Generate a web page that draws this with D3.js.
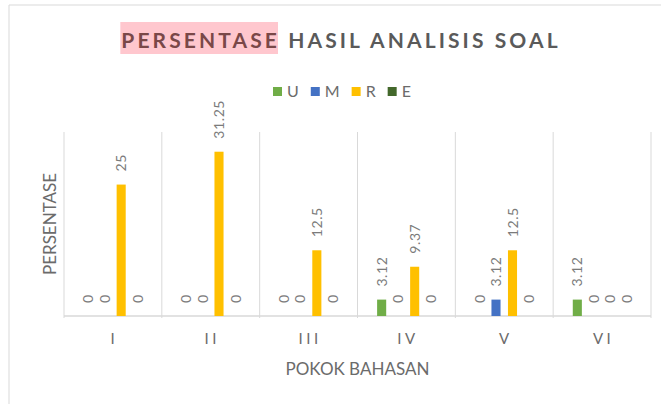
<!DOCTYPE html>
<html>
<head>
<meta charset="utf-8">
<script src="https://cdn.jsdelivr.net/npm/d3@7"></script>
<style>
  body { margin: 0; background: #fff; }
  text { font-family: Lato, "Open Sans", sans-serif; }
</style>
</head>
<body>
<div class="container"></div>
<script>
// data
var categories = ["I", "II", "III", "IV", "V", "VI"];
var seriesNames = ["U", "M", "R", "E"];
var seriesColors = ["#70ad47", "#4472c4", "#ffc000", "#43682b"];
var valuesU = [0, 0, 0, 3.12, 0, 3.12];
var valuesM = [0, 0, 0, 0, 3.12, 0];
var valuesR = [25, 31.25, 12.5, 9.37, 12.5, 0];
var valuesE = [0, 0, 0, 0, 0, 0];
var yMax = 35;

var allValues = [valuesU, valuesM, valuesR, valuesE];

function makeStage(width, height) {
    var stage = d3.select(".container")
        .append("svg")
        .attr("width", width)
        .attr("height", height);
    return stage;
}

var svg = makeStage(661, 404);

// chart frame (only top and left edge are visible)
svg.append("line").attr("x1", 9).attr("y1", 5).attr("x2", 661).attr("y2", 5)
    .attr("stroke", "#d9d9d9");
svg.append("line").attr("x1", 9).attr("y1", 5).attr("x2", 9).attr("y2", 404)
    .attr("stroke", "#d9d9d9");

var plot = {left: 64, right: 651, top: 132, bottom: 316};

var x0 = d3.scaleBand()
    .domain(categories)
    .range([plot.left, plot.right])
    .paddingInner(0.325)
    .paddingOuter(0.1625);

var x1 = d3.scaleBand()
    .domain(seriesNames)
    .range([0, x0.bandwidth()])
    .paddingInner(0.45)
    .paddingOuter(0.225);

var y = d3.scaleLinear()
    .domain([0, yMax])
    .range([plot.bottom, plot.top]);

// vertical gridlines at category boundaries
var bounds = d3.range(categories.length + 1).map(function (i) {
    return plot.left + i * x0.step();
});
svg.selectAll(".grid").data(bounds).enter().append("line")
    .attr("class", "grid")
    .attr("x1", function (d) { return d; })
    .attr("x2", function (d) { return d; })
    .attr("y1", y(yMax))
    .attr("y2", y(0) + 2)
    .attr("stroke", "#d9d9d9")
    .attr("stroke-width", 1);

// base line
svg.append("line")
    .attr("x1", plot.left).attr("x2", plot.right)
    .attr("y1", y(0)).attr("y2", y(0))
    .attr("stroke", "#d9d9d9")
    .attr("stroke-width", 1.5);

// bars
var rows = [];
categories.forEach(function (c, i) {
    seriesNames.forEach(function (s, j) {
        rows.push({cat: c, series: s, color: seriesColors[j], value: allValues[j][i]});
    });
});

svg.selectAll(".bar").data(rows).enter().append("rect")
    .attr("class", "bar")
    .attr("x", function (d) { return x0(d.cat) + x1(d.series); })
    .attr("width", x1.bandwidth())
    .attr("y", function (d) { return y(d.value); })
    .attr("height", function (d) { return y(0) - y(d.value); })
    .attr("fill", function (d) { return d.color; });

// rotated data labels
svg.selectAll(".lbl").data(rows).enter().append("text")
    .attr("class", "lbl")
    .attr("transform", function (d) {
        var cx = x0(d.cat) + x1(d.series) + x1.bandwidth() / 2;
        return "translate(" + cx + "," + (y(d.value) - 13) + ") rotate(-90)";
    })
    .attr("dy", "0.36em")
    .attr("font-size", 14)
    .attr("letter-spacing", 0.6)
    .attr("fill", "#7b7b7b")
    .text(function (d) { return String(d.value); });

// category axis labels
var xAxis = d3.axisBottom(x0).tickSize(0).tickPadding(17);
var gx = svg.append("g")
    .attr("transform", "translate(0," + y(0) + ")")
    .call(xAxis);
gx.select(".domain").remove();
gx.selectAll("text")
    .attr("font-family", "Lato, sans-serif")
    .attr("font-size", 15)
    .attr("letter-spacing", 3.5)
    .attr("dx", 1.5)
    .attr("fill", "#6b6b6b");

// axis titles
svg.append("text")
    .attr("x", (plot.left + plot.right) / 2)
    .attr("y", 375)
    .attr("text-anchor", "middle")
    .attr("font-size", 17)
    .attr("fill", "#6b6b6b")
    .text("POKOK BAHASAN");

svg.append("text")
    .attr("transform", "translate(56," + ((plot.top + plot.bottom) / 2) + ") rotate(-90)")
    .attr("text-anchor", "middle")
    .attr("font-size", 17)
    .attr("fill", "#6b6b6b")
    .text("PERSENTASE");

// title with highlighted first word
var title = svg.append("text")
    .attr("x", 341)
    .attr("y", 48)
    .attr("text-anchor", "middle")
    .attr("font-size", 21)
    .attr("font-weight", "bold")
    .attr("letter-spacing", 3.1);
title.append("tspan").attr("fill", "#7a4848").text("PERSENTASE");
title.append("tspan").attr("fill", "#5a5a5a").text(" HASIL ANALISIS SOAL");

var tnode = title.node();
var hlStart = tnode.getStartPositionOfChar(0).x;
var hlEnd = tnode.getEndPositionOfChar(9).x;
svg.insert("rect", "text")
    .attr("x", hlStart - 1)
    .attr("y", 22)
    .attr("width", hlEnd - hlStart - 1)
    .attr("height", 32)
    .attr("fill", "#ffc7ce");

// legend
var legend = svg.append("g").attr("transform", "translate(0,96)");
var lx = 273;
seriesNames.forEach(function (s, j) {
    legend.append("rect")
        .attr("x", lx).attr("y", -9)
        .attr("width", 9).attr("height", 9)
        .attr("fill", seriesColors[j]);
    var t = legend.append("text")
        .attr("x", lx + 14)
        .attr("y", 1)
        .attr("font-size", 16)
        .attr("fill", "#6b6b6b")
        .text(s);
    lx += 14 + t.node().getComputedTextLength() + 12;
});
</script>
</body>
</html>
